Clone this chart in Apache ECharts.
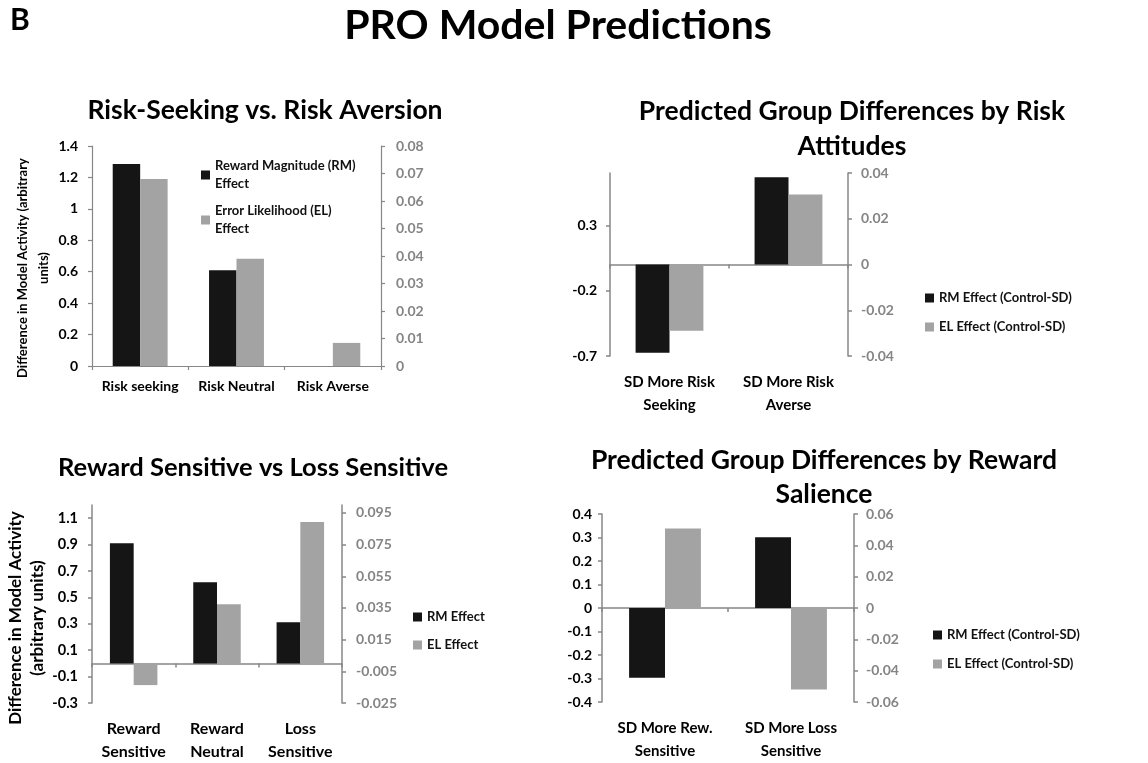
<!DOCTYPE html>
<html><head><meta charset="utf-8">
<script src="https://cdn.jsdelivr.net/npm/echarts@6/dist/echarts.min.js"></script>
<style>html,body{margin:0;padding:0;background:#fff}#c{width:1148px;height:763px}</style>
</head><body><div id="c"></div>
<script>
// ---------------- DATA ----------------
const panelLetter = 'B';
const mainTitle = 'PRO Model Predictions';

// Panel 1
const p1Title = 'Risk-Seeking vs. Risk Aversion';
const p1Categories = ['Risk seeking', 'Risk Neutral', 'Risk Averse'];
const p1Names = ['Reward Magnitude (RM)\nEffect', 'Error Likelihood (EL)\nEffect'];
const p1RM = [1.286, 0.609, 0];
const p1EL = [0.068, 0.039, 0.0084];
const p1YName = 'Difference in Model Activity (arbitrary\nunits)';
const p1LeftTicks = [0, 1.4, 0.2];      // min, max, step
const p1RightTicks = [0, 0.08, 0.01];

// Panel 2
const p2Title = 'Predicted Group Differences by Risk\nAttitudes';
const p2Categories = ['SD More Risk\nSeeking', 'SD More Risk\nAverse'];
const p2Names = ['RM Effect (Control-SD)', 'EL Effect (Control-SD)'];
const p2RM = [-0.676, 0.668];
const p2EL = [-0.029, 0.0306];
const p2LeftTicks = [-0.7, 0.7, 0.5];
const p2RightTicks = [-0.04, 0.04, 0.02];

// Panel 3
const p3Title = 'Reward Sensitive vs Loss Sensitive';
const p3Categories = ['Reward\nSensitive', 'Reward\nNeutral', 'Loss\nSensitive'];
const p3Names = ['RM Effect', 'EL Effect'];
const p3RM = [0.911, 0.614, 0.311];
const p3EL = [-0.0137, 0.0374, 0.0893];
const p3YName = 'Difference in Model Activity\n(arbitrary units)';
const p3LeftTicks = [-0.3, 1.2, 0.2];
const p3RightTicks = [-0.025, 0.1, 0.02];

// Panel 4
const p4Title = 'Predicted Group Differences by Reward\nSalience';
const p4Categories = ['SD More Rew.\nSensitive', 'SD More Loss\nSensitive'];
const p4Names = ['RM Effect (Control-SD)', 'EL Effect (Control-SD)'];
const p4RM = [-0.297, 0.301];
const p4EL = [0.0508, -0.052];
const p4LeftTicks = [-0.4, 0.4, 0.1];
const p4RightTicks = [-0.06, 0.06, 0.02];

// ---------------- STYLE ----------------
const FONT = 'Lato';
const BLACK = '#151515', GRAY = '#a3a3a3', AXIS = '#878787', RLABEL = '#858585';

const chart = echarts.init(document.getElementById('c'));

function titleItem(text, x, top, size, lh) {
  return { text, left: x, top, textAlign: 'center', padding: 0,
    textStyle: { fontFamily: FONT, fontWeight: 'bold', fontSize: size, lineHeight: lh, color: '#000' } };
}

function yAx(grid, pos, t, o) {
  o = o || {};
  return {
    type: 'value', gridIndex: grid, position: pos,
    min: t[0], max: t[1], interval: t[2],
    splitLine: { show: false },
    axisLine: { show: true, onZero: false, lineStyle: { color: AXIS, width: o.lw || 1.5 } },
    axisTick: { show: true, length: 4, lineStyle: { color: AXIS, width: o.lw || 1.5 } },
    axisLabel: { fontFamily: FONT, fontWeight: 'bold', fontSize: o.fs || 13,
      color: pos === 'left' ? '#000' : RLABEL, margin: o.margin || 12,
      showMaxLabel: o.hideMax ? false : null },
    name: o.name || '', nameLocation: 'middle', nameRotate: 90, nameGap: o.nameGap || 40,
    nameTextStyle: { fontFamily: FONT, fontWeight: 'bold', fontSize: o.nfs || 13,
      lineHeight: o.nlh || 18, color: '#000', padding: o.npad || 0 }
  };
}

function xLabelAx(grid, cats, o) {
  return {
    type: 'category', gridIndex: grid, data: cats, position: 'bottom',
    axisLine: { show: !!o.line, onZero: !!o.line, lineStyle: { color: AXIS, width: o.lw || 1.5 } },
    axisTick: { show: !!o.line, length: 4, lineStyle: { color: AXIS, width: o.lw || 1.5 } },
    axisLabel: { interval: 0, fontFamily: FONT, fontWeight: 'bold', fontSize: o.fs || 15,
      lineHeight: o.lh || 23, color: '#000', margin: o.margin || 14 },
    splitLine: { show: false }
  };
}
function xZeroAx(grid, cats) {
  return {
    type: 'category', gridIndex: grid, data: cats, position: 'bottom',
    axisLine: { show: true, onZero: true, lineStyle: { color: AXIS, width: 1.5 } },
    axisTick: { show: true, length: 4, lineStyle: { color: AXIS, width: 1.5 } },
    axisLabel: { show: false }, splitLine: { show: false }
  };
}
function bar(name, x, y, data, color) {
  return { type: 'bar', name, xAxisIndex: x, yAxisIndex: y, data,
    barGap: '0%', barCategoryGap: '43%', itemStyle: { color }, silent: true };
}
function legendItem(names, left, top, gap, o) {
  o = o || {};
  return { data: names, left, top, orient: 'vertical', itemGap: gap, padding: 0,
    itemWidth: 9, itemHeight: 9, icon: 'rect', selectedMode: false,
    textStyle: Object.assign({ fontFamily: FONT, fontWeight: 'bold', fontSize: 13,
      lineHeight: 16, color: '#111' }, o.text || {}) };
}

const option = {
  animation: false,
  backgroundColor: '#fff',
  title: [
    { text: panelLetter, left: 10, top: 2, padding: 0,
      textStyle: { fontFamily: FONT, fontWeight: 'bold', fontSize: 30, lineHeight: 36, color: '#000' } },
    titleItem(mainTitle, 558, 2, 41, 48),
    titleItem(p1Title, 265, 94, 26.5, 32),
    titleItem(p2Title, 852, 94, 26.5, 35),
    titleItem(p3Title, 253, 452, 25.5, 32),
    titleItem(p4Title, 824, 443, 26.5, 34)
  ],
  grid: [
    { left: 92, top: 146, width: 289, height: 220 },
    { left: 610, top: 173, width: 238, height: 183 },
    { left: 92, top: 505, width: 250, height: 200 },
    { left: 602, top: 514, width: 252, height: 188 }
  ],
  yAxis: [
    yAx(0, 'left', p1LeftTicks, { lw: 1.2, fs: 14, margin: 14, name: p1YName, nameGap: 36, nfs: 13, nlh: 21, npad: [0, 24, 0, 0] }),
    yAx(0, 'right', p1RightTicks, { lw: 1.2, fs: 14, margin: 15 }),
    yAx(1, 'left', p2LeftTicks, { hideMax: true, fs: 14, margin: 13 }),
    yAx(1, 'right', p2RightTicks, { fs: 14, margin: 13 }),
    yAx(2, 'left', p3LeftTicks, { hideMax: true, fs: 14.5, margin: 14, name: p3YName, nameGap: 37, nfs: 17, nlh: 22, npad: [0, 28, 0, 0] }),
    yAx(2, 'right', p3RightTicks, { hideMax: true, fs: 14, margin: 14 }),
    yAx(3, 'left', p4LeftTicks, { fs: 14, margin: 10 }),
    yAx(3, 'right', p4RightTicks, { fs: 14, margin: 12 })
  ],
  xAxis: [
    xLabelAx(0, p1Categories, { line: true, lw: 1.2, fs: 14, lh: 17, margin: 12 }),
    xLabelAx(1, p2Categories, { margin: 15 }),
    xZeroAx(1, p2Categories),
    xLabelAx(2, p3Categories, { margin: 14, fs: 16 }),
    xZeroAx(2, p3Categories),
    xLabelAx(3, p4Categories, { margin: 15 }),
    xZeroAx(3, p4Categories)
  ],
  legend: [
    legendItem([p1Names[0]], 201, 148, 0, { text: { fontSize: 13, lineHeight: 18, padding: [18, 0, 0, 0] } }),
    legendItem([p1Names[1]], 201, 193, 0, { text: { fontSize: 13, lineHeight: 18, padding: [18, 0, 0, 0] } }),
    legendItem(p2Names, 925, 290, 13),
    legendItem(p3Names, 413, 609, 12),
    legendItem(p4Names, 933, 627, 13)
  ],
  series: [
    bar(p1Names[0], 0, 0, p1RM, BLACK),
    bar(p1Names[1], 0, 1, p1EL, GRAY),
    bar(p2Names[0], 1, 2, p2RM, BLACK),
    bar(p2Names[1], 1, 3, p2EL, GRAY),
    bar(p3Names[0], 3, 4, p3RM, BLACK),
    bar(p3Names[1], 3, 5, p3EL, GRAY),
    bar(p4Names[0], 5, 6, p4RM, BLACK),
    bar(p4Names[1], 5, 7, p4EL, GRAY)
  ]
};
chart.setOption(option);
</script></body></html>
